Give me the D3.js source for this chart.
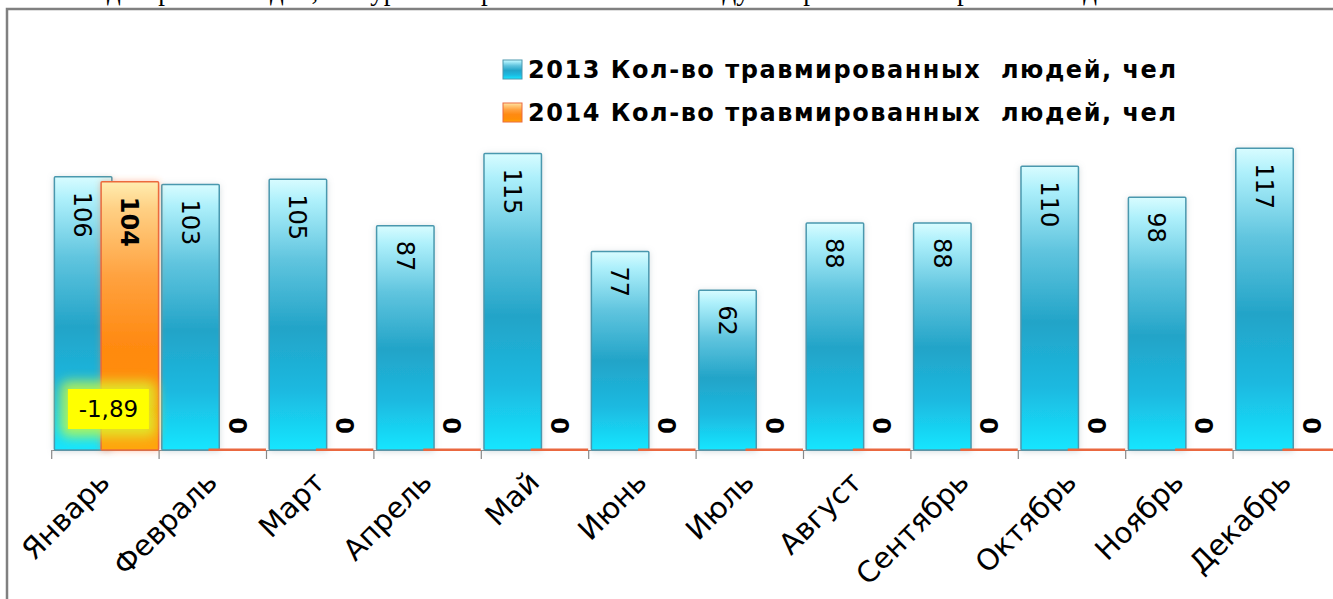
<!DOCTYPE html>
<html>
<head>
<meta charset="utf-8">
<script src="https://cdn.jsdelivr.net/npm/d3@7"></script>
<style>
  body { margin: 0; background: #fff; overflow: hidden; }
  text { font-family: "DejaVu Sans", sans-serif; }
</style>
</head>
<body>
<div id="viz"></div>
<script>
// Данные диаграммы
let months = ['Январь', 'Февраль', 'Март', 'Апрель', 'Май', 'Июнь',
              'Июль', 'Август', 'Сентябрь', 'Октябрь', 'Ноябрь', 'Декабрь'];
let values2013 = [106, 103, 105, 87, 115, 77, 62, 88, 88, 110, 98, 117];
let values2014 = [104, 0, 0, 0, 0, 0, 0, 0, 0, 0, 0, 0];
let seriesNames = ['2013 Кол-во травмированных  людей, чел',
                   '2014 Кол-во травмированных  людей, чел'];
let changeLabel = '-1,89';   // изменение январь 2014 к 2013, %

let w = 1333;
let h = 599;

let svg = d3.select('#viz')
    .append('svg')
        .attr('width', w)
        .attr('height', h);

let defs = svg.append('defs');

// Градиенты столбцов
function gradient(id, stops) {
    let g = defs.append('linearGradient')
        .attr('id', id)
        .attr('x1', 0).attr('y1', 0).attr('x2', 0).attr('y2', 1);
    stops.forEach(s => g.append('stop').attr('offset', s[0]).attr('stop-color', s[1]));
}
gradient('gBlue', [[0, '#d8fcff'], [0.08, '#aef0fb'], [0.3, '#5fc4de'], [0.55, '#22a4c8'],
                   [0.78, '#1cb9e0'], [1, '#16e6ff']]);
gradient('gOrange', [[0, '#ffedb0'], [0.1, '#ffd084'], [0.35, '#ffa240'], [0.6, '#ff8a12'],
                     [0.85, '#ff8e06'], [1, '#ffa60a']]);

let shadow = defs.append('filter').attr('id', 'shadow')
    .attr('x', '-30%').attr('y', '-10%').attr('width', '160%').attr('height', '120%');
shadow.append('feDropShadow')
    .attr('dx', 0).attr('dy', 1).attr('stdDeviation', 3)
    .attr('flood-color', '#8aa0a8').attr('flood-opacity', 0.35);

let glowOrange = defs.append('filter').attr('id', 'glowOrange')
    .attr('x', '-30%').attr('y', '-10%').attr('width', '160%').attr('height', '120%');
glowOrange.append('feDropShadow')
    .attr('dx', 0).attr('dy', 0).attr('stdDeviation', 3)
    .attr('flood-color', '#ff7a40').attr('flood-opacity', 0.45);

let glowYellow = defs.append('filter').attr('id', 'glowYellow')
    .attr('x', '-40%').attr('y', '-60%').attr('width', '180%').attr('height', '220%');
glowYellow.append('feGaussianBlur').attr('stdDeviation', 6);

// Текст документа над рамкой (виден только низ строки)
svg.append('text')
    .attr('x', 70)
    .attr('y', 0)
    .style('font-family', '"Liberation Serif", serif')
    .style('font-size', '27px')
    .text('Из диаграммы видно, что уровень травматизма в 2014 году по сравнению с прошлым годом снизился');

// Рамка диаграммы
svg.append('rect')
    .attr('x', 7)
    .attr('y', 9)
    .attr('width', 1500)
    .attr('height', 800)
    .attr('fill', '#fff')
    .attr('stroke', '#808080')
    .attr('stroke-width', 2.5);

// Шкалы
let x = d3.scaleBand()
    .domain(months)
    .range([51.7, 51.7 + 12 * 107.4])
    .padding(0);
let band = x.bandwidth();
let barW = band * 0.535;
let seriesOffset = d3.scaleLinear().domain([0, 1]).range([band * 0.025, band * 0.46]);

let y = d3.scaleLinear()
    .domain([0, 140])
    .range([450, 89]);

// Ось X
let axis = svg.append('g')
    .attr('transform', `translate(0,${y(0)})`)
    .call(d3.axisBottom(x).tickSize(0).tickFormat(''));
axis.select('.domain').attr('stroke', '#888').attr('stroke-width', 1.2);
let bounds = months.map(m => x(m)).concat([x(months[11]) + band]);
svg.selectAll('.tickline')
    .data(bounds)
    .enter().append('line')
        .attr('x1', d => d).attr('x2', d => d)
        .attr('y1', y(0)).attr('y2', y(0) + 9)
        .attr('stroke', '#888')
        .attr('stroke-width', 1.2);

// Столбцы
let data = [];
months.forEach(function(m, i) {
    data.push({ month: m, s: 0, v: values2013[i] });
    data.push({ month: m, s: 1, v: values2014[i] });
});

let bars2013 = data.filter(d => d.s == 0);
let bars2014 = data.filter(d => d.s == 1);

function drawBars(rows, fill, stroke, filter) {
    svg.selectAll(null)
        .data(rows)
        .enter().append('rect')
            .attr('x', d => x(d.month) + seriesOffset(d.s))
            .attr('y', d => y(d.v))
            .attr('width', barW)
            .attr('height', d => Math.max(y(0) - y(d.v), 0.01))
            .attr('rx', 1)
            .attr('fill', fill)
            .attr('stroke', stroke)
            .attr('stroke-width', 1.5)
            .attr('filter', filter);
}
drawBars(bars2013, 'url(#gBlue)', '#4a98ae', 'url(#shadow)');
drawBars(bars2014.filter(d => d.v > 0), 'url(#gOrange)', '#ec6a3c', 'url(#glowOrange)');

// Нулевые значения 2014 года - тонкая линия
svg.selectAll(null)
    .data(bars2014.filter(d => d.v == 0))
    .enter().append('rect')
        .attr('x', d => x(d.month) + seriesOffset(d.s))
        .attr('y', y(0) - 1.5)
        .attr('width', barW)
        .attr('height', 2.5)
        .attr('fill', '#ea6840');

// Подписи значений (повёрнуты на 90°)
svg.selectAll(null)
    .data(data)
    .enter().append('text')
        .attr('transform', function(d) {
            let cx = x(d.month) + seriesOffset(d.s) + barW / 2;
            let cy = d.v > 0 ? y(d.v) + 15 : y(0) - 16;
            return `translate(${cx},${cy}) rotate(90)`;
        })
        .attr('dy', '0.36em')
        .attr('text-anchor', d => d.v > 0 ? 'start' : 'end')
        .style('font-size', '24px')
        .style('font-weight', d => d.s == 1 ? 'bold' : 'normal')
        .text(d => d.v);

// Подпись изменения (январь)
let note = svg.append('g')
    .attr('transform', `translate(${x(months[0]) + band / 2 + 3},${y(0) - 41})`);
note.append('rect')
    .attr('x', -48).attr('y', -28).attr('width', 96).attr('height', 56)
    .attr('rx', 8)
    .attr('fill', '#d8ff30')
    .attr('opacity', 0.75)
    .attr('filter', 'url(#glowYellow)');
note.append('rect')
    .attr('x', -40.5).attr('y', -20).attr('width', 81).attr('height', 40)
    .attr('fill', '#ffff00');
note.append('text')
    .attr('text-anchor', 'middle')
    .attr('dy', '0.36em')
    .style('font-size', '23px')
    .text(changeLabel);

// Подписи месяцев
svg.selectAll('.month')
    .data(months)
    .enter().append('text')
        .attr('class', 'month')
        .attr('transform', d => `translate(${x(d) + band / 2 + 6},${y(0) + 34}) rotate(-45)`)
        .attr('text-anchor', 'end')
        .style('font-size', '29px')
        .text(d => d);

// Легенда
let legend = svg.append('g');
let legendRows = legend.selectAll('g')
    .data(seriesNames)
    .enter().append('g')
        .attr('transform', (d, i) => `translate(503,${60 + i * 43})`);
legendRows.append('rect')
    .attr('width', 19).attr('height', 19)
    .attr('fill', (d, i) => i == 0 ? 'url(#gBlue)' : 'url(#gOrange)')
    .attr('stroke', (d, i) => i == 0 ? '#4a98ae' : '#ec6a3c');
legendRows.append('text')
    .attr('x', 25)
    .attr('y', 18)
    .attr('textLength', 648)
    .attr('lengthAdjust', 'spacing')
    .style('font-size', '24px')
    .style('font-weight', 'bold')
    .style('white-space', 'pre')
    .text(d => d);
</script>
</body>
</html>
